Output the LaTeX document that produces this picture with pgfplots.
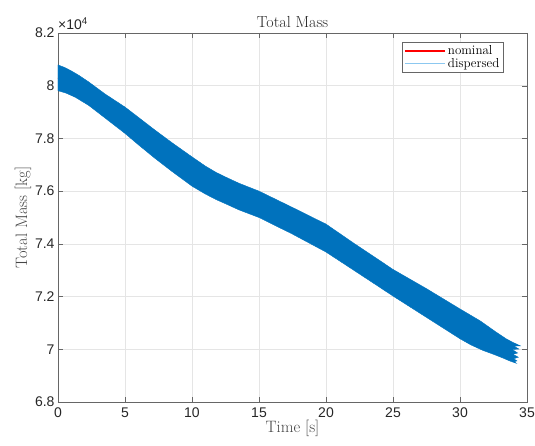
\documentclass[border=0pt]{standalone}
\usepackage{fontspec}
\usepackage{pgfplots}
\pgfplotsset{compat=1.18}
\usetikzlibrary{calc}
\newfontfamily\arial{Liberation Sans}
\definecolor{mblue}{RGB}{0,114,189}
\definecolor{lblue}{RGB}{140,200,240}
\definecolor{axgray}{RGB}{38,38,38}
\definecolor{labgray}{RGB}{70,70,70}
\begin{document}
\begin{tikzpicture}
\begin{axis}[
  scale only axis, width=469pt, height=369pt,
  xmin=0, xmax=35, ymin=68000, ymax=82000,
  xtick={0,5,...,35}, ytick={68000,70000,...,82000},
  yticklabels={6.8,7,7.2,7.4,7.6,7.8,8,8.2},
  scaled y ticks=false,
  tick align=inside, tick pos=both,
  major tick length=5pt,
  grid=major, grid style={black!10, line width=0.5pt},
  axis line style={draw=black!60},
  tick style={black!60},
  ticklabel style={font=\arial\fontsize{14}{16}\selectfont, text=axgray},
  xticklabel style={yshift=-2pt},
  /pgf/number format/assume math mode=true,
  xlabel={Time [s]}, ylabel={Total Mass [kg]},
  label style={font=\fontsize{16.5}{18}\selectfont, text=labgray},
  xlabel style={yshift=4pt},
  ylabel style={yshift=-3pt},
  title={Total Mass}, title style={font=\fontsize{16}{18}\selectfont, text=axgray, yshift=-4pt},
  legend style={at={(rel axis cs:0.949,0.976)}, anchor=north east,
    font=\fontsize{13}{14}\selectfont, draw=black!60, line width=0.5pt,
    row sep=-2pt, inner sep=1.5pt},
  legend cell align=left,
  legend image code/.code={\draw[#1] (0pt,0pt) -- (40pt,0pt);},
]
\addplot[red, line width=2pt] coordinates {
 (0,80300) (2.3,79650) (5,78720) (7.2,77850) (10,76750) (12.5,76040)
 (15,75500) (20,74220) (22,73570) (25,72520) (27.5,71750) (30,70960) (32.7,70170) (33.8,69900)
};
\addlegendentry{nominal}
\addplot[fill=mblue, draw=mblue, line width=0.4pt, forget plot] coordinates {
 (0,80790) (0.5,80690) (1.0,80560) (1.6,80380) (2.3,80140) (3.5,79690) (5,79190)
 (6,78800) (7.2,78330) (8.5,77840) (10,77300) (11,76950) (11.8,76710) (12.4,76560)
 (13.5,76300) (15,76000) (17.5,75380) (20,74750) (22,74050) (25,73030)
 (27.5,72300) (30,71530) (31.5,71080) (32.7,70650) (33.5,70380) (34.0,70250) (34.5,70130)
 (34.0,70120) (34.4,70010) (33.9,69990) (34.3,69860) (33.95,69810) (34.35,69700)
 (34.0,69640) (34.25,69560) (34.05,69530) (34.2,69470)
 (33.7,69560) (33.2,69670) (32.5,69810) (31.7,69960) (30.8,70170) (30,70400) (27.5,71210) (25,72020) (23.3,72590)
 (20,73690) (17.5,74370) (15,75000) (13.5,75290) (12.6,75500) (11.8,75680) (11,75890) (10,76190) (8.5,76750) (7.2,77260)
 (6,77760) (5,78190) (3.5,78780) (2.3,79250) (1.3,79560) (0.6,79720) (0,79810)
} -- cycle;
\addlegendimage{lblue, line width=1pt}
\addlegendentry{dispersed}
\end{axis}
\node[anchor=south west, inner sep=0pt, font=\arial\fontsize{14}{16}\selectfont, text=axgray]
  at ($(current axis.north west)+(0pt,3pt)$) {×10\textsuperscript{4}};
\pgfresetboundingbox
\path ($(current axis.south west)+(-58pt,-43pt)$) rectangle ($(current axis.north east)+(8pt,33pt)$);
\end{tikzpicture}
\end{document}
